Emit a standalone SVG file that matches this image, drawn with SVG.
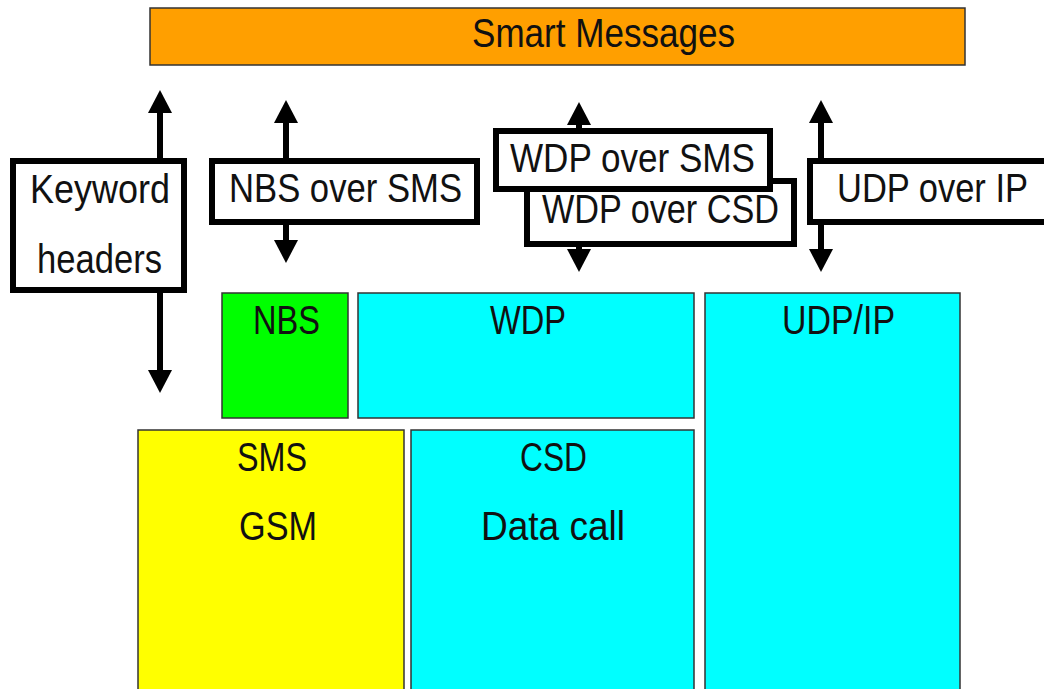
<svg xmlns="http://www.w3.org/2000/svg" width="1044" height="689" viewBox="0 0 1044 689">
  <style>
    text { font-family: "Liberation Sans", Arial, sans-serif; font-size: 40px; fill: #111; }
    .layer { stroke: #333; stroke-width: 1.5; }
    .label { fill: #fff; stroke: #000; stroke-width: 6; }
    .link { stroke: #000; stroke-width: 6; fill: none; }
  </style>
  <defs>
    <!-- arrowhead drawn along +x so orient works at both ends -->
    <marker id="head" viewBox="0 0 23 24" refX="1" refY="12" markerWidth="23" markerHeight="24" markerUnits="userSpaceOnUse" orient="auto-start-reverse">
      <path d="M0,0 L23,12 L0,24 Z" fill="#000"/>
    </marker>
  </defs>

  <!-- application layer -->
  <g id="smart-messages">
    <rect class="layer" x="150" y="8" width="815" height="57" fill="#FF9F00"/>
    <text x="472" y="47" textLength="263" lengthAdjust="spacingAndGlyphs">Smart Messages</text>
  </g>

  <!-- bearer layers -->
  <g id="nbs">
    <rect class="layer" x="222" y="293" width="126" height="125" fill="#00FF00"/>
    <text x="253" y="334" textLength="67" lengthAdjust="spacingAndGlyphs">NBS</text>
  </g>
  <g id="wdp">
    <rect class="layer" x="358" y="293" width="336" height="125" fill="#00FFFF"/>
    <text x="490" y="334" textLength="76" lengthAdjust="spacingAndGlyphs">WDP</text>
  </g>
  <g id="udp-ip">
    <rect class="layer" x="705" y="293" width="255" height="400" fill="#00FFFF"/>
    <text x="782" y="334" textLength="113" lengthAdjust="spacingAndGlyphs">UDP/IP</text>
  </g>
  <g id="sms-gsm">
    <rect class="layer" x="138" y="430" width="266" height="263" fill="#FFFF00"/>
    <text x="237" y="471" textLength="70" lengthAdjust="spacingAndGlyphs">SMS</text>
    <text x="239" y="540" textLength="78" lengthAdjust="spacingAndGlyphs">GSM</text>
  </g>
  <g id="csd">
    <rect class="layer" x="411" y="430" width="283" height="263" fill="#00FFFF"/>
    <text x="520" y="471" textLength="67" lengthAdjust="spacingAndGlyphs">CSD</text>
    <text x="481" y="540" textLength="144" lengthAdjust="spacingAndGlyphs">Data call</text>
  </g>

  <!-- two-way links between the application and the bearers -->
  <g id="connectors">
    <line class="link" x1="160" y1="112" x2="160" y2="371" marker-start="url(#head)" marker-end="url(#head)"/>
    <line class="link" x1="286" y1="122" x2="286" y2="241" marker-start="url(#head)" marker-end="url(#head)"/>
    <line class="link" x1="579" y1="124" x2="579" y2="250" marker-start="url(#head)" marker-end="url(#head)"/>
    <line class="link" x1="821" y1="122" x2="821" y2="250" marker-start="url(#head)" marker-end="url(#head)"/>
  </g>

  <!-- adaptation labels -->
  <g id="keyword-headers">
    <rect class="label" x="13" y="161" width="171" height="129"/>
    <text x="30" y="203" textLength="140" lengthAdjust="spacingAndGlyphs">Keyword</text>
    <text x="37" y="273" textLength="125" lengthAdjust="spacingAndGlyphs">headers</text>
  </g>
  <g id="nbs-over-sms">
    <rect class="label" x="212" y="161" width="265" height="61"/>
    <text x="229" y="202" textLength="233" lengthAdjust="spacingAndGlyphs">NBS over SMS</text>
  </g>
  <g id="wdp-over-csd">
    <rect class="label" x="527" y="181" width="267" height="63"/>
    <text x="542" y="223" textLength="237" lengthAdjust="spacingAndGlyphs">WDP over CSD</text>
  </g>
  <g id="wdp-over-sms">
    <rect class="label" x="496" y="131" width="274" height="58"/>
    <text x="510" y="172" textLength="245" lengthAdjust="spacingAndGlyphs">WDP over SMS</text>
  </g>
  <g id="udp-over-ip">
    <rect class="label" x="810" y="161" width="250" height="61"/>
    <text x="837" y="202" textLength="191" lengthAdjust="spacingAndGlyphs">UDP over IP</text>
  </g>
</svg>
